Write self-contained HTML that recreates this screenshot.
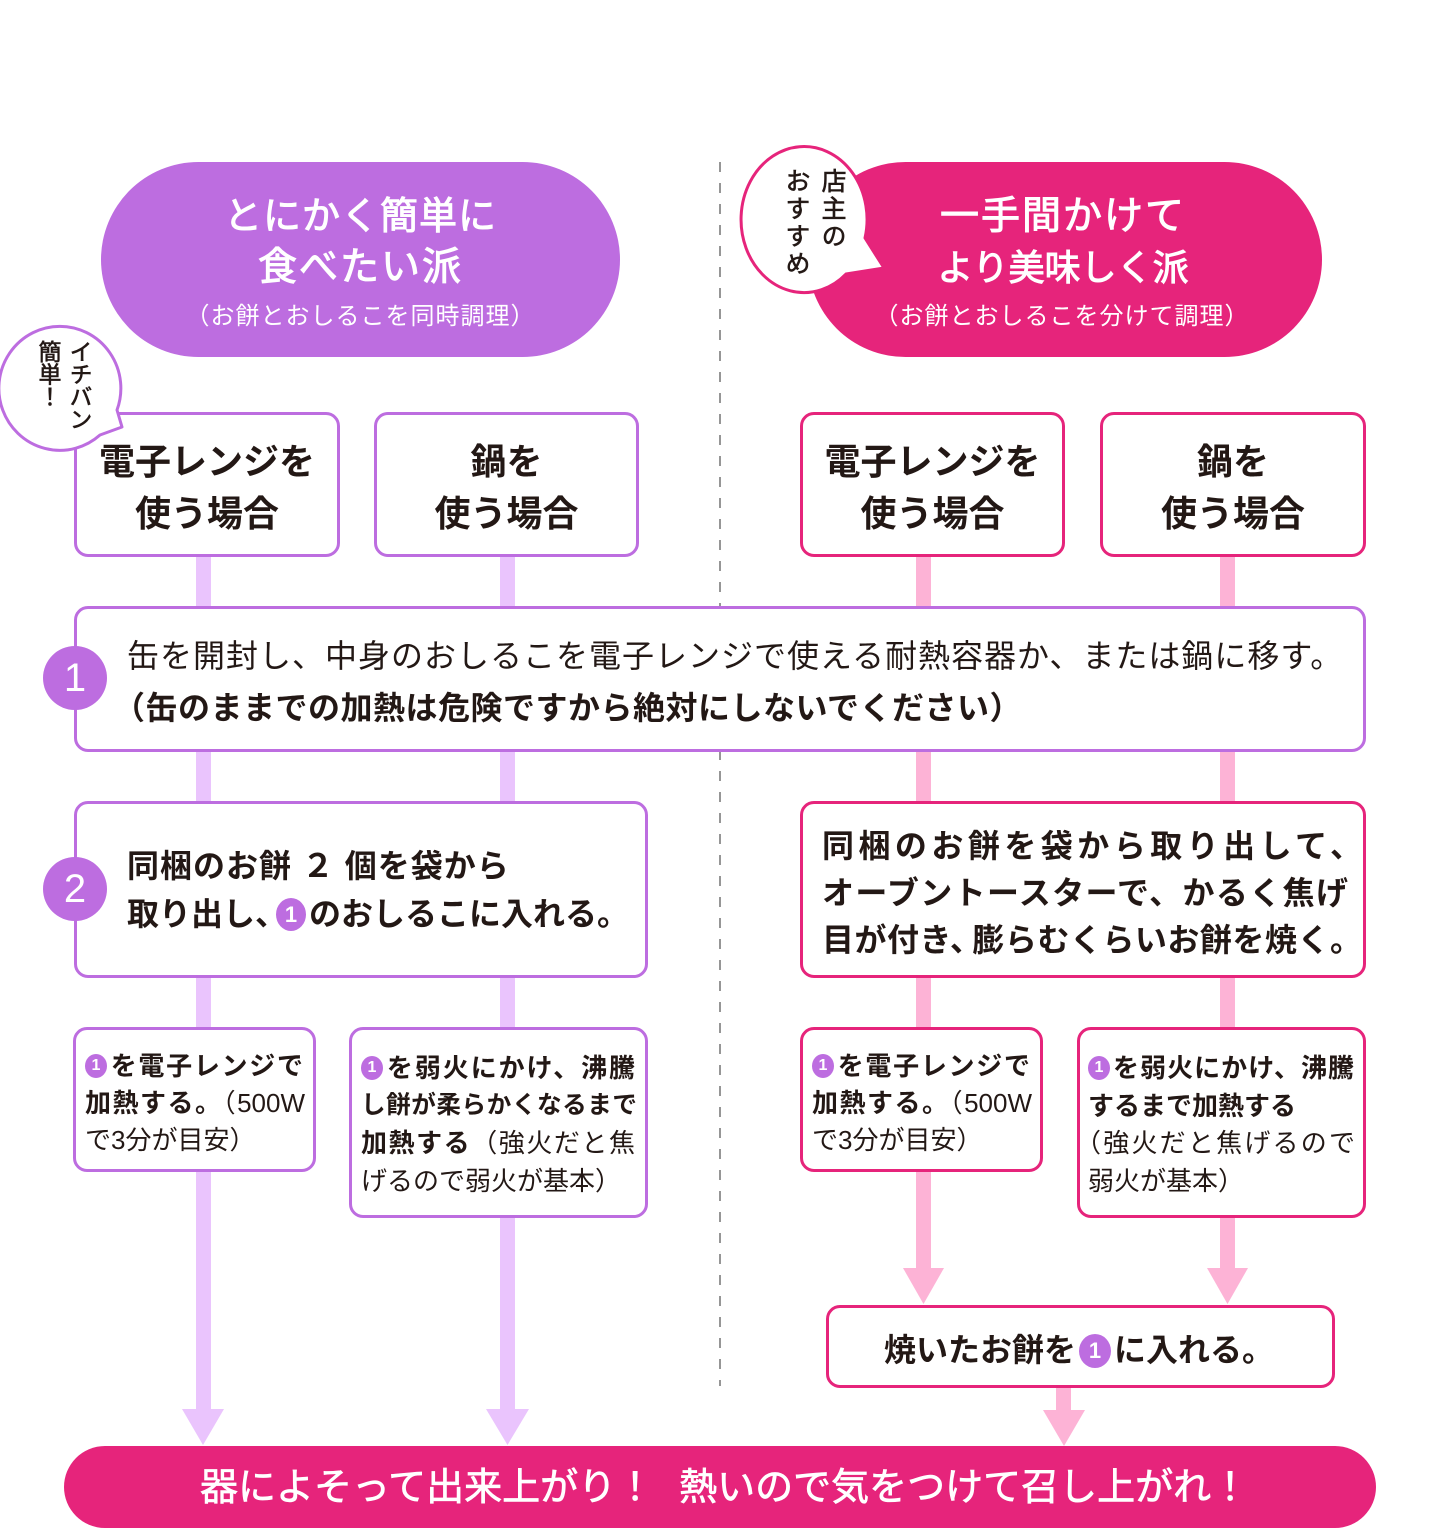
<!DOCTYPE html>
<html><head><meta charset="utf-8">
<style>
html,body{margin:0;padding:0;background:#fff;}
body{width:1438px;height:1529px;position:relative;overflow:hidden;font-family:"Liberation Sans","Noto Sans CJK JP",sans-serif;color:#231815;}
.a{position:absolute;left:0;top:0;}
.box{position:absolute;box-sizing:border-box;border:3px solid #bd6de0;border-radius:14px;background:#fff;}
.pk{border-color:#e6247b;}
.t{position:absolute;white-space:nowrap;}
.c{text-align:center;}
.j{text-align:justify;text-align-last:justify;white-space:normal;}
.b{font-weight:700;}
.r{font-weight:400;}
.w{color:#fff;}
.n1{display:inline-block;background:#bd6de0;color:#fff;border-radius:50%;text-align:center;text-align-last:center;font-family:"Liberation Sans",sans-serif;font-weight:700;vertical-align:middle;}
.nb{width:30px;height:33px;line-height:33px;font-size:22px;margin:0 3px;position:relative;top:-2px;}
.ns{width:22px;height:24px;line-height:24px;font-size:16px;margin-right:2px;position:relative;top:-2px;}
.badge{position:absolute;width:64px;height:64px;border-radius:50%;background:#bd6de0;color:#fff;text-align:center;line-height:64px;font-size:40px;font-family:"Liberation Sans",sans-serif;}
</style></head>
<body>

<svg class="a" width="1438" height="1529">
 <line x1="720" y1="162" x2="720" y2="1386" stroke="#6a6a6a" stroke-width="1.4" stroke-dasharray="10 11"/>
 <rect x="101" y="162" width="519" height="195" rx="97.5" fill="#bd6de0"/>
 <rect x="808" y="162" width="514" height="195" rx="97.5" fill="#e6247b"/>
 <g fill="#eac4fd">
  <rect x="196" y="550" width="15" height="862"/>
  <polygon points="182,1409 224,1409 203,1445"/>
  <rect x="500" y="550" width="15" height="862"/>
  <polygon points="486,1409 529,1409 507.5,1445"/>
 </g>
 <g fill="#fdb3d6">
  <rect x="916" y="550" width="15" height="720"/>
  <polygon points="903,1268 944,1268 923.5,1304"/>
  <rect x="1220" y="550" width="15" height="720"/>
  <polygon points="1207,1268 1248,1268 1227.5,1304"/>
  <rect x="1056" y="1380" width="15" height="32"/>
  <polygon points="1043,1410 1085,1410 1064,1446"/>
 </g>
 <rect x="64" y="1446" width="1312" height="82" rx="41" fill="#e6247b"/>
</svg>

<!-- boxes -->
<div class="box" style="left:74px;top:412px;width:266px;height:145px;"></div>
<div class="box" style="left:374px;top:412px;width:265px;height:145px;"></div>
<div class="box pk" style="left:800px;top:412px;width:265px;height:145px;"></div>
<div class="box pk" style="left:1100px;top:412px;width:266px;height:145px;"></div>

<div class="box" style="left:74px;top:606px;width:1292px;height:146px;"></div>
<div class="box" style="left:74px;top:801px;width:574px;height:177px;"></div>
<div class="box pk" style="left:800px;top:801px;width:566px;height:177px;"></div>

<div class="box" style="left:73px;top:1027px;width:243px;height:145px;"></div>
<div class="box" style="left:349px;top:1027px;width:299px;height:191px;"></div>
<div class="box pk" style="left:800px;top:1027px;width:243px;height:145px;"></div>
<div class="box pk" style="left:1077px;top:1027px;width:289px;height:191px;"></div>

<div class="box pk" style="left:826px;top:1305px;width:509px;height:83px;"></div>

<!-- bubbles -->
<svg class="a" width="1438" height="1529">
 <path d="M117 410 A61 62 0 1 0 100 435 L122 427 Z" fill="#fff" stroke="#bd6de0" stroke-width="3" stroke-linejoin="round"/>
 <path d="M865 238 A63 73 0 1 0 846 274 L884 268 Z" fill="#fff" stroke="#e6247b" stroke-width="3" stroke-linejoin="round"/>
</svg>

<div class="badge" style="left:43px;top:646px;">1</div>
<div class="badge" style="left:43px;top:857px;">2</div>

<!-- pill titles -->
<div class="t c w" style="left:101px;width:519px;top:192px;height:50px;line-height:50px;font-size:38px;letter-spacing:1px;-webkit-text-stroke:1px #fff;">とにかく簡単に</div>
<div class="t c w" style="left:101px;width:519px;top:243px;height:50px;line-height:50px;font-size:39px;letter-spacing:2px;-webkit-text-stroke:1px #fff;">食べたい派</div>
<div class="t c w" style="left:101px;width:519px;top:302px;height:30px;line-height:30px;font-size:24px;letter-spacing:1px;">（お餅とおしるこを同時調理）</div>

<div class="t c w" style="left:863px;width:400px;top:192px;height:50px;line-height:50px;font-size:39px;letter-spacing:2px;-webkit-text-stroke:1px #fff;">一手間かけて</div>
<div class="t c w" style="left:863px;width:400px;top:243px;height:50px;line-height:50px;font-size:36px;-webkit-text-stroke:1px #fff;">より美味しく派</div>
<div class="t c w" style="left:812px;width:500px;top:302px;height:30px;line-height:30px;font-size:24px;letter-spacing:1px;">（お餅とおしるこを分けて調理）</div>

<!-- bubble text -->
<div class="t" style="left:32px;top:340px;height:110px;width:62px;writing-mode:vertical-rl;line-height:31px;font-size:23px;letter-spacing:-0.5px;-webkit-text-stroke:0.6px #231815;">イチバン<br>簡単！</div>
<div class="t" style="left:778px;top:168px;height:125px;width:72px;writing-mode:vertical-rl;line-height:36px;font-size:25px;letter-spacing:2.5px;-webkit-text-stroke:0.6px #231815;">店主の<br>おすすめ</div>

<!-- row1 -->
<div class="t c b" style="left:74px;width:266px;top:436px;height:52px;line-height:52px;font-size:36px;">電子レンジを</div>
<div class="t c b" style="left:74px;width:266px;top:488px;height:52px;line-height:52px;font-size:36px;">使う場合</div>
<div class="t c b" style="left:374px;width:265px;top:436px;height:52px;line-height:52px;font-size:36px;">鍋を</div>
<div class="t c b" style="left:374px;width:265px;top:488px;height:52px;line-height:52px;font-size:36px;">使う場合</div>
<div class="t c b" style="left:800px;width:265px;top:436px;height:52px;line-height:52px;font-size:36px;">電子レンジを</div>
<div class="t c b" style="left:800px;width:265px;top:488px;height:52px;line-height:52px;font-size:36px;">使う場合</div>
<div class="t c b" style="left:1100px;width:266px;top:436px;height:52px;line-height:52px;font-size:36px;">鍋を</div>
<div class="t c b" style="left:1100px;width:266px;top:488px;height:52px;line-height:52px;font-size:36px;">使う場合</div>

<!-- step1 -->
<div class="t r" style="left:127px;top:634px;height:44px;line-height:44px;font-size:32px;letter-spacing:1px;">缶を開封し、中身のおしるこを電子レンジで使える耐熱容器か、または鍋に移す。</div>
<div class="t b" style="left:113px;top:686px;height:44px;line-height:44px;font-size:32px;letter-spacing:0.5px;">（缶のままでの加熱は危険ですから絶対にしないでください）</div>

<!-- step2 left -->
<div class="t b" style="left:127px;top:844px;height:44px;line-height:44px;font-size:32px;letter-spacing:1px;">同梱のお餅 ２ 個を袋から</div>
<div class="t b" style="left:127px;top:892px;height:44px;line-height:44px;font-size:32px;">取り出し<span style="margin-right:-14px;">、</span><span class="n1 nb">1</span>のおしるこに入れる。</div>

<!-- step2 right -->
<div class="t b j" style="left:822px;width:540px;top:824px;height:44px;line-height:44px;font-size:32px;">同梱のお餅を袋から取り出して、</div>
<div class="t b j" style="left:822px;width:526px;top:871px;height:44px;line-height:44px;font-size:32px;">オーブントースターで、かるく焦げ</div>
<div class="t b j" style="left:822px;width:540px;top:918px;height:44px;line-height:44px;font-size:32px;">目が付き<span style="margin-right:-10px;">、</span>膨らむくらいお餅を焼く。</div>

<!-- row3 left C -->
<div class="t b j" style="left:85px;width:218px;top:1048px;height:36px;line-height:36px;font-size:26px;"><span class="n1 ns">1</span>を電子レンジで</div>
<div class="t j" style="left:85px;width:220px;top:1085px;height:36px;line-height:36px;font-size:26px;"><span class="b">加熱する。</span><span class="r">（500W</span></div>
<div class="t r" style="left:85px;top:1122px;height:36px;line-height:36px;font-size:26px;">で3分が目安）</div>

<!-- row3 left D -->
<div class="t b j" style="left:361px;width:274px;top:1050px;height:36px;line-height:36px;font-size:26px;"><span class="n1 ns">1</span>を弱火にかけ、沸騰</div>
<div class="t b j" style="left:361px;width:276px;top:1088px;height:36px;line-height:36px;font-size:24.6px;">し餅が柔らかくなるまで</div>
<div class="t j" style="left:361px;width:274px;top:1125px;height:36px;line-height:36px;font-size:26px;"><span class="b">加熱する</span><span class="r">（強火だと焦</span></div>
<div class="t r" style="left:361px;top:1163px;height:36px;line-height:36px;font-size:26px;">げるので弱火が基本）</div>

<!-- row3 right C -->
<div class="t b j" style="left:812px;width:218px;top:1048px;height:36px;line-height:36px;font-size:26px;"><span class="n1 ns">1</span>を電子レンジで</div>
<div class="t j" style="left:812px;width:220px;top:1085px;height:36px;line-height:36px;font-size:26px;"><span class="b">加熱する。</span><span class="r">（500W</span></div>
<div class="t r" style="left:812px;top:1122px;height:36px;line-height:36px;font-size:26px;">で3分が目安）</div>

<!-- row3 right D -->
<div class="t b j" style="left:1088px;width:266px;top:1050px;height:36px;line-height:36px;font-size:26px;"><span class="n1 ns">1</span>を弱火にかけ、沸騰</div>
<div class="t b" style="left:1088px;top:1088px;height:36px;line-height:36px;font-size:26px;">するまで加熱する</div>
<div class="t r j" style="left:1075px;width:280px;top:1125px;height:36px;line-height:36px;font-size:26px;">（強火だと焦げるので</div>
<div class="t r" style="left:1088px;top:1163px;height:36px;line-height:36px;font-size:26px;">弱火が基本）</div>

<!-- yaita -->
<div class="t b" style="left:884px;top:1328px;height:44px;line-height:44px;font-size:32px;">焼いたお餅を<span class="n1 nb" style="width:32px;height:34px;line-height:34px;">1</span>に入れる。</div>

<!-- bottom -->
<div class="t w" style="left:200px;top:1462px;height:52px;line-height:52px;font-size:38px;-webkit-text-stroke:0.7px #fff;">器によそって出来上がり！<span style="margin-left:25px;"></span>熱いので気をつけて召し上がれ！</div>

</body></html>
